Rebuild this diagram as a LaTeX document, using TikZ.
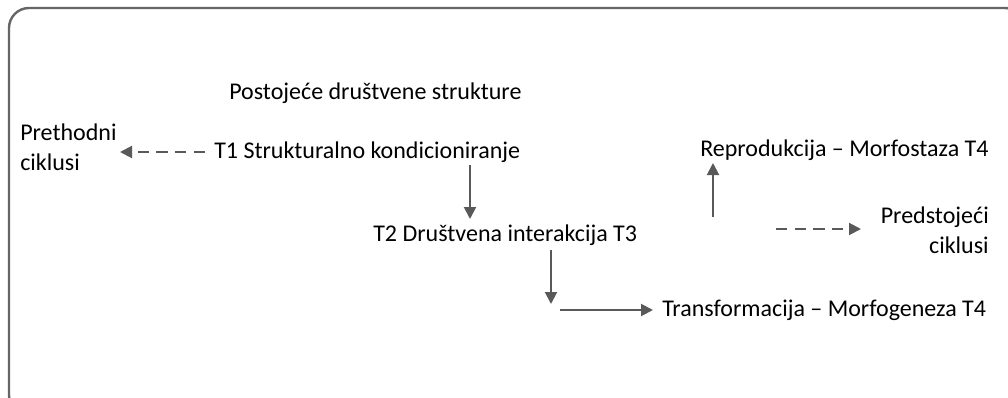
\documentclass[tikz,border=0pt]{standalone}
\usepackage{fontspec}
\setmainfont{Carlito}
\usetikzlibrary{arrows.meta}
\definecolor{arr}{HTML}{595959}
\definecolor{frm}{HTML}{666666}
\tikzset{
  lbl/.style={inner sep=0pt, font=\fontsize{18pt}{22.5pt}\selectfont, text=black},
  conn/.style={draw=arr, line width=1.5pt, -{Triangle[length=9pt,width=9pt]}},
  dconn/.style={conn, dash pattern=on 8.5pt off 5.5pt},
}
\begin{document}
\begin{tikzpicture}[x=0.75pt,y=-0.75pt]
\useasboundingbox (0,0) rectangle (1008,397);
\begin{scope}
\clip (0,0) rectangle (1008,397);
\draw[frm, line width=1.8pt, rounded corners=15pt] (9,8) rectangle (1025,415);
\end{scope}
\node[lbl, anchor=west] (pds) at (229,93) {Postojeće društvene strukture};
\node[lbl, anchor=west, align=left] (prev) at (20,147) {Prethodni\\ciklusi};
\node[lbl, anchor=west] (t1) at (214,152) {T1 Strukturalno kondicioniranje};
\node[lbl, anchor=west] (t2) at (373,235) {T2 Društvena interakcija T3};
\node[lbl, anchor=west] (tr) at (662,310) {Transformacija – Morfogeneza T4};
\node[lbl, anchor=west] (rep) at (700,150) {Reprodukcija – Morfostaza T4};
\node[lbl, anchor=east, align=right] (next) at (989,230) {Predstojeći\\ciklusi};
\coordinate (a1s) at (205,152);
\coordinate (a1e) at (120,152);
\coordinate (a2s) at (470,165);
\coordinate (a2e) at (470,219);
\coordinate (a3s) at (551,250);
\coordinate (a3e) at (551,304);
\coordinate (a4s) at (560,310);
\coordinate (a4e) at (653,310);
\coordinate (a5s) at (713,217);
\coordinate (a5e) at (713,163);
\coordinate (a6s) at (776,229);
\coordinate (a6e) at (861,229);
\draw[dconn] (a1s) -- (a1e);
\draw[conn] (a2s) -- (a2e);
\draw[conn] (a3s) -- (a3e);
\draw[conn] (a4s) -- (a4e);
\draw[conn] (a5s) -- (a5e);
\draw[dconn] (a6s) -- (a6e);
\end{tikzpicture}
\end{document}
